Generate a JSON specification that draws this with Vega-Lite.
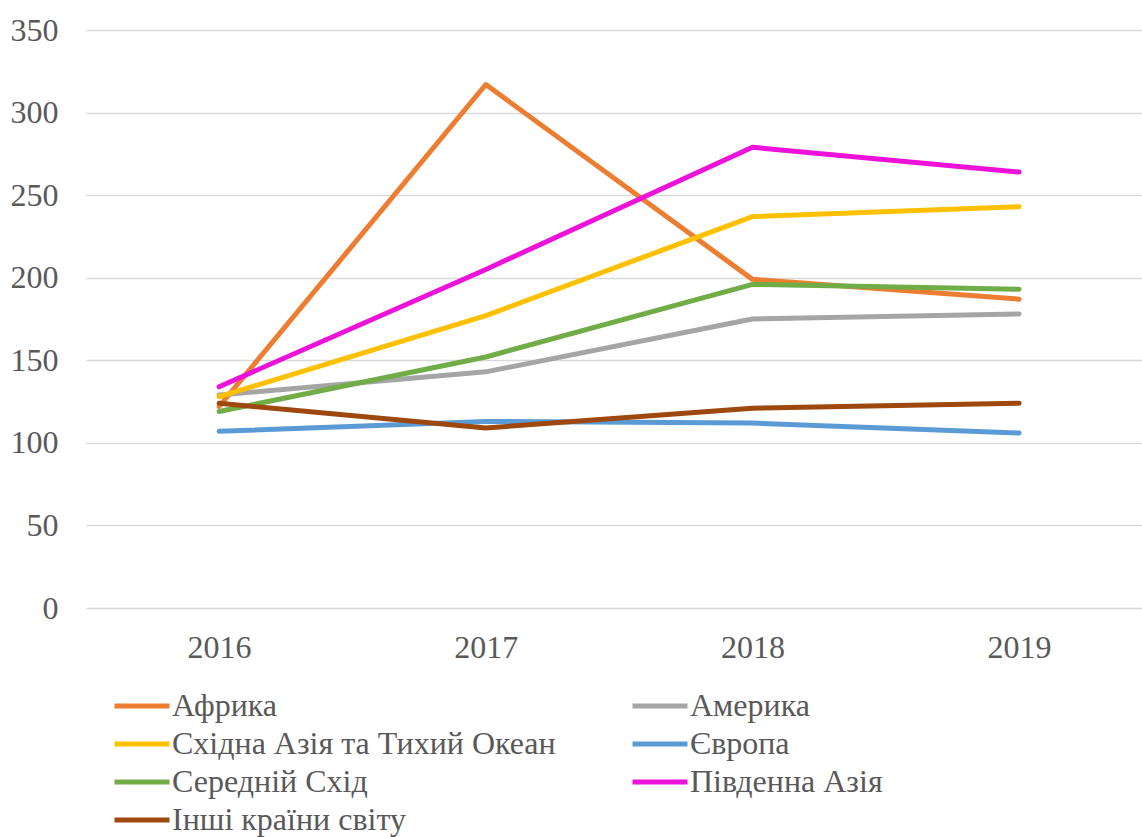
{
  "$schema": "https://vega.github.io/schema/vega-lite/v6.json",
  "width": 1056,
  "height": 578,
  "autosize": "none",
  "padding": {"left": 86, "top": 30, "right": 0, "bottom": 229},
  "background": "white",
  "config": {
    "view": {"stroke": null},
    "font": "Liberation Serif"
  },
  "data": {
    "values": [
      {"region": "Африка", "year": "2016", "value": 122},
      {"region": "Африка", "year": "2017", "value": 317},
      {"region": "Африка", "year": "2018", "value": 199},
      {"region": "Африка", "year": "2019", "value": 187},
      {"region": "Америка", "year": "2016", "value": 129},
      {"region": "Америка", "year": "2017", "value": 143},
      {"region": "Америка", "year": "2018", "value": 175},
      {"region": "Америка", "year": "2019", "value": 178},
      {"region": "Східна Азія та Тихий Океан", "year": "2016", "value": 128},
      {"region": "Східна Азія та Тихий Океан", "year": "2017", "value": 177},
      {"region": "Східна Азія та Тихий Океан", "year": "2018", "value": 237},
      {"region": "Східна Азія та Тихий Океан", "year": "2019", "value": 243},
      {"region": "Європа", "year": "2016", "value": 107},
      {"region": "Європа", "year": "2017", "value": 113},
      {"region": "Європа", "year": "2018", "value": 112},
      {"region": "Європа", "year": "2019", "value": 106},
      {"region": "Середній Схід", "year": "2016", "value": 119},
      {"region": "Середній Схід", "year": "2017", "value": 152},
      {"region": "Середній Схід", "year": "2018", "value": 196},
      {"region": "Середній Схід", "year": "2019", "value": 193},
      {"region": "Південна Азія", "year": "2016", "value": 134},
      {"region": "Південна Азія", "year": "2017", "value": 205},
      {"region": "Південна Азія", "year": "2018", "value": 279},
      {"region": "Південна Азія", "year": "2019", "value": 264},
      {"region": "Інші країни світу", "year": "2016", "value": 124},
      {"region": "Інші країни світу", "year": "2017", "value": 109},
      {"region": "Інші країни світу", "year": "2018", "value": 121},
      {"region": "Інші країни світу", "year": "2019", "value": 124}
    ]
  },
  "mark": {"type": "line", "strokeWidth": 5, "strokeCap": "round", "strokeJoin": "round"},
  "encoding": {
    "x": {
      "field": "year",
      "type": "ordinal",
      "scale": {"type": "point", "padding": 0.48, "align": 0.52},
      "axis": {
        "title": null,
        "grid": false,
        "domain": false,
        "ticks": false,
        "labelAngle": 0,
        "labelPadding": 24,
        "labelFontSize": 32,
        "labelFont": "Liberation Serif",
        "labelColor": "#595959"
      }
    },
    "y": {
      "field": "value",
      "type": "quantitative",
      "scale": {"domain": [0, 350], "nice": false},
      "axis": {
        "title": null,
        "values": [0, 50, 100, 150, 200, 250, 300, 350],
        "grid": true,
        "gridColor": "#d9d9d9",
        "gridWidth": 1.5,
        "domain": false,
        "ticks": false,
        "labelPadding": 28,
        "labelFontSize": 32,
        "labelFont": "Liberation Serif",
        "labelColor": "#595959"
      }
    },
    "color": {
      "field": "region",
      "type": "nominal",
      "sort": ["Африка", "Америка", "Східна Азія та Тихий Океан", "Європа", "Середній Схід", "Південна Азія", "Інші країни світу"],
      "scale": {
        "domain": ["Африка", "Америка", "Східна Азія та Тихий Океан", "Європа", "Середній Схід", "Південна Азія", "Інші країни світу"],
        "range": ["#ED7D31", "#A5A5A5", "#FFC000", "#5B9BD5", "#70AD47", "#EE11D9", "#9E480E"]
      },
      "legend": {
        "title": null,
        "orient": "none",
        "legendX": 26,
        "legendY": 661,
        "direction": "horizontal",
        "columns": 2,
        "symbolType": "stroke",
        "symbolSize": 3025,
        "symbolStrokeWidth": 5,
        "labelFontSize": 32,
        "labelFont": "Liberation Serif",
        "labelColor": "#595959",
        "labelLimit": 0,
        "labelOffset": 0,
        "clipHeight": 30,
        "rowPadding": 6,
        "columnPadding": 74,
        "padding": 0
      }
    },
    "order": {"field": "region"}
  }
}
